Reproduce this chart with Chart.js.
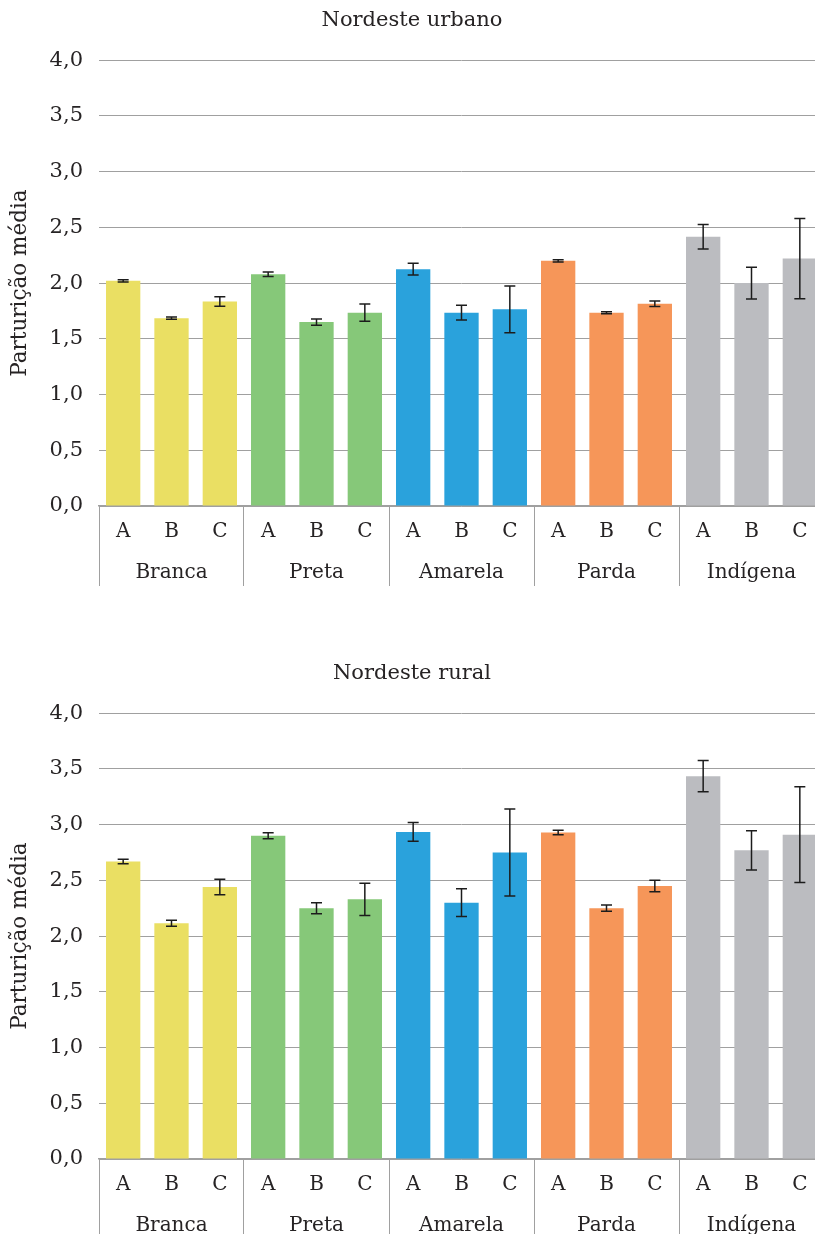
<!DOCTYPE html>
<html>
<head>
<meta charset="utf-8">
<script src="https://cdn.jsdelivr.net/npm/chart.js@4.4.1/dist/chart.umd.min.js"></script>
<style>
  html, body { margin: 0; padding: 0; background: #fff; overflow: hidden; width: 815px; height: 1234px; }
  .panel { position: absolute; left: 0; width: 824px; height: 600px; }
  #p1 { top: 0; }
  #p2 { top: 653px; }
</style>
</head>
<body>
<div class="panel" id="p1"><canvas id="c1"></canvas></div>
<div class="panel" id="p2"><canvas id="c2"></canvas></div>
<script>
// Sub-categories inside each colour/race group
const categories = ['A', 'B', 'C'];
const groups = ['Branca', 'Preta', 'Amarela', 'Parda', 'Indígena'];
const groupColors = ['#EADF63', '#86C879', '#2AA2DC', '#F69659', '#BBBCC0'];

// Nordeste urbano: mean parturition and half-width of the interval
const urbanMeans  = [2.02, 1.685, 1.835,  2.08, 1.65, 1.735,  2.125, 1.735, 1.765,  2.20, 1.735, 1.815,  2.415, 2.00, 2.22];
const urbanErrors = [0.01, 0.01, 0.043,   0.02, 0.028, 0.077, 0.052, 0.067, 0.21,   0.01, 0.009, 0.025,  0.11, 0.143, 0.36];

// Nordeste rural
const ruralMeans  = [2.67, 2.115, 2.44,   2.90, 2.25, 2.33,   2.935, 2.30, 2.75,    2.93, 2.25, 2.45,    3.435, 2.77, 2.91];
const ruralErrors = [0.02, 0.027, 0.07,   0.027, 0.05, 0.145, 0.085, 0.125, 0.39,   0.02, 0.028, 0.052,  0.14, 0.176, 0.43];

const yTickMin = 0, yTickMax = 4, yTickStep = 0.5;
const yTitle = 'Parturição média';

const GRID = '#a0a0a0';
const TEXT = '#262324';

Chart.defaults.font.family = "'DejaVu Serif', serif";
Chart.defaults.font.size = 20;
Chart.defaults.color = TEXT;

const xLabels = groups.flatMap(() => categories);
const barColors = groups.flatMap((g, gi) => categories.map(() => groupColors[gi]));

const errorBars = {
  id: 'errorBars',
  afterDatasetsDraw(chart, args, opts) {
    const { ctx } = chart;
    const y = chart.scales.y;
    const meta = chart.getDatasetMeta(0);
    const means = chart.data.datasets[0].data;
    const errs = opts.errors || [];
    ctx.save();
    ctx.strokeStyle = '#1c1c1c';
    ctx.lineWidth = 1.5;
    meta.data.forEach((bar, i) => {
      const yt = y.getPixelForValue(means[i] + errs[i]);
      const yb = y.getPixelForValue(means[i] - errs[i]);
      const x = bar.x, h = 5.5;
      ctx.beginPath();
      ctx.moveTo(x, yt); ctx.lineTo(x, yb);
      ctx.moveTo(x - h, yt); ctx.lineTo(x + h, yt);
      ctx.moveTo(x - h, yb); ctx.lineTo(x + h, yb);
      ctx.stroke();
    });
    ctx.restore();
  }
};

function makeChart(id, title, means, errors) {
  return new Chart(document.getElementById(id), {
    type: 'bar',
    data: {
      labels: xLabels,
      datasets: [{
        data: means,
        backgroundColor: barColors,
        borderWidth: 0,
        barPercentage: 0.71,
        categoryPercentage: 1
      }]
    },
    plugins: [errorBars],
    options: {
      responsive: true,
      maintainAspectRatio: false,
      animation: false,
      layout: { padding: 0 },
      plugins: {
        legend: { display: false },
        tooltip: { enabled: false },
        title: {
          display: true,
          text: title,
          color: TEXT,
          font: { size: 21, weight: 'normal' },
          padding: { top: 8, bottom: 27 }
        },
        errorBars: { errors: errors }
      },
      scales: {
        y: {
          min: yTickMin,
          max: yTickMax,
          ticks: {
            stepSize: yTickStep,
            padding: 16,
            color: TEXT,
            font: { size: 21 },
            callback: v => v.toFixed(1).replace('.', ',')
          },
          grid: { color: GRID, lineWidth: 1, drawTicks: false },
          border: { display: false },
          title: {
            display: true,
            text: yTitle,
            color: TEXT,
            font: { size: 21.5 },
            padding: { top: 8, bottom: 0 }
          },
          afterFit: s => { s.width = 99; }
        },
        x: {
          position: 'bottom',
          ticks: { autoSkip: false, maxRotation: 0, padding: -66, color: TEXT },
          grid: {
            offset: true,
            drawOnChartArea: false,
            drawTicks: true,
            tickLength: 80,
            lineWidth: 1,
            color: c => (c.index === undefined || c.index % categories.length === 0) ? GRID : 'rgba(0,0,0,0)'
          },
          border: { display: true, color: GRID, width: 1.5 },
          afterFit: s => { s.height = 40; }
        },
        x2: {
          type: 'category',
          position: 'bottom',
          labels: groups,
          offset: true,
          ticks: { autoSkip: false, maxRotation: 0, padding: 7, color: TEXT },
          grid: { display: false },
          border: { display: false },
          afterFit: s => { s.height = 54; }
        }
      }
    }
  });
}

makeChart('c1', 'Nordeste urbano', urbanMeans, urbanErrors);
makeChart('c2', 'Nordeste rural', ruralMeans, ruralErrors);
</script>
</body>
</html>
